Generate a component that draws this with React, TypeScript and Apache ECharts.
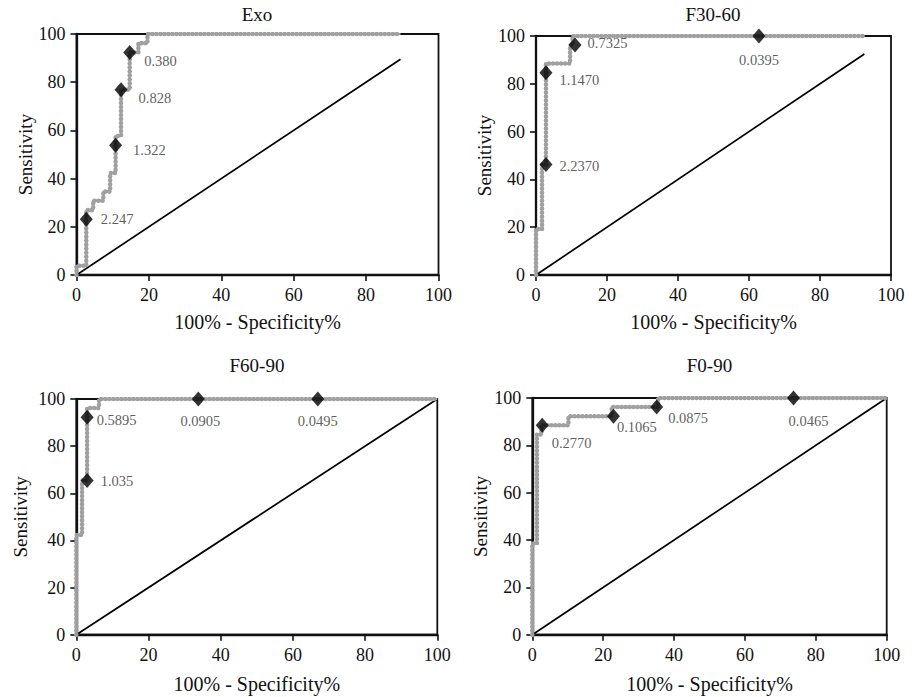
import React, { useEffect, useRef } from "react";
import * as echarts from "echarts";

// ---------- DATA ----------
const PANEL_TITLES = ["Exo", "F30-60", "F60-90", "F0-90"];
const X_AXIS_NAME = "100% - Specificity%";
const Y_AXIS_NAME = "Sensitivity";
const AXIS_MIN = 0;
const AXIS_MAX = 100;
const AXIS_STEP = 20;

// ROC step curves: [100% - specificity, sensitivity]
const EXO_ROC = [
  [0, 0], [0, 3.8], [2.7, 3.8], [2.7, 23.1], [2.7, 26.9], [4.6, 26.9], [4.6, 30.8],
  [7.4, 30.8], [7.4, 34.6], [9.3, 34.6], [9.3, 42.3], [10.8, 42.3], [10.8, 53.8],
  [10.8, 57.7], [12.3, 57.7], [12.3, 76.9], [14.7, 76.9], [14.7, 92.3], [17.1, 92.3],
  [17.1, 96.2], [19.6, 96.2], [19.6, 100], [89.5, 100],
];
const F30_60_ROC = [
  [0, 0], [0, 19.2], [1.7, 19.2], [1.7, 46.2], [2.8, 46.2], [2.8, 84.6], [2.8, 88.5],
  [9.6, 88.5], [9.6, 96.2], [10.3, 96.2], [10.3, 100], [92.5, 100],
];
const F60_90_ROC = [
  [0, 0], [0, 42.3], [1.6, 42.3], [1.6, 65.4], [3.0, 65.4], [3.0, 92.3], [3.0, 96.2],
  [6.3, 96.2], [6.3, 100], [100, 100],
];
const F0_90_ROC = [
  [0, 0], [0, 38.5], [1.3, 38.5], [1.3, 84.6], [2.6, 84.6], [2.6, 88.5], [10.2, 88.5],
  [10.2, 92.3], [22.4, 92.3], [22.4, 96.2], [35.5, 96.2], [35.5, 100], [100, 100],
];

// Reference (chance) lines
const EXO_CHANCE = [[0, 0], [89.5, 89.5]];
const F30_60_CHANCE = [[0, 0], [92.5, 92.5]];
const F60_90_CHANCE = [[0, 0], [100, 100]];
const F0_90_CHANCE = [[0, 0], [100, 100]];

// Cut-off points
const EXO_CUT_X = [2.7, 10.8, 12.3, 14.7];
const EXO_CUT_Y = [23.1, 53.8, 76.9, 92.3];
const EXO_CUT_LABELS = ["2.247", "1.322", "0.828", "0.380"];

const F30_60_CUT_X = [2.8, 2.8, 11.0, 62.8];
const F30_60_CUT_Y = [46.2, 84.6, 96.2, 100];
const F30_60_CUT_LABELS = ["2.2370", "1.1470", "0.7325", "0.0395"];

const F60_90_CUT_X = [3.0, 3.0, 33.8, 66.9];
const F60_90_CUT_Y = [65.4, 92.3, 100, 100];
const F60_90_CUT_LABELS = ["1.035", "0.5895", "0.0905", "0.0495"];

const F0_90_CUT_X = [2.8, 22.9, 35.1, 73.7];
const F0_90_CUT_Y = [88.5, 92.3, 96.2, 100];
const F0_90_CUT_LABELS = ["0.2770", "0.1065", "0.0875", "0.0465"];

// ---------- LAYOUT / STYLE ----------
const FONT = '"Liberation Serif", "Times New Roman", serif';
const GRID_BOXES = [
  { left: 76.5, top: 34, width: 362, height: 241 },
  { left: 536, top: 36, width: 355, height: 239 },
  { left: 76.3, top: 399, width: 361, height: 235.7 },
  { left: 532.3, top: 398, width: 354.4, height: 236.7 },
];
const TITLE_POS = [
  { left: 257, top: 5 },
  { left: 713, top: 5 },
  { left: 257, top: 356 },
  { left: 709.5, top: 356 },
];
const Y_NAME_GAP = [41, 40, 46, 40];
const X_NAME_GAP = [37, 37, 39, 39];
// [position, offsetX, offsetY] per cut-off label
const LABEL_PLACE: [string, number, number][][] = [
  [["right", 3, 0], ["right", 6, 5], ["right", 6, 8], ["right", 3, 8]],
  [["right", 2, 1], ["right", 2, 7], ["right", 1, -2], ["bottom", 0, 4]],
  [["right", 2, 0], ["right", -2, 3], ["bottom", 2, 2], ["bottom", 0, 2]],
  [["right", -2, 18], ["right", -8, 11], ["right", 0, 11], ["bottom", 15, 3]],
];

const ROCS = [EXO_ROC, F30_60_ROC, F60_90_ROC, F0_90_ROC];
const CHANCES = [EXO_CHANCE, F30_60_CHANCE, F60_90_CHANCE, F0_90_CHANCE];
const CUTS_X = [EXO_CUT_X, F30_60_CUT_X, F60_90_CUT_X, F0_90_CUT_X];
const CUTS_Y = [EXO_CUT_Y, F30_60_CUT_Y, F60_90_CUT_Y, F0_90_CUT_Y];
const CUTS_L = [EXO_CUT_LABELS, F30_60_CUT_LABELS, F60_90_CUT_LABELS, F0_90_CUT_LABELS];

const CURVE_GRAY = "#a0a0a0";

function buildOption() {
  const grid: any[] = [];
  const xAxis: any[] = [];
  const yAxis: any[] = [];
  const title: any[] = [];
  const series: any[] = [];

  PANEL_TITLES.forEach((t, i) => {
    grid.push({
      ...GRID_BOXES[i],
      show: true,
      borderColor: "#111",
      borderWidth: 1.8,
      backgroundColor: "transparent",
    });
    title.push({
      text: t,
      left: TITLE_POS[i].left,
      top: TITLE_POS[i].top,
      textAlign: "center",
      padding: 0,
      textStyle: { fontFamily: FONT, fontSize: 19, fontWeight: "normal", color: "#111" },
    });
    const axisCommon = {
      type: "value",
      gridIndex: i,
      min: AXIS_MIN,
      max: AXIS_MAX,
      interval: AXIS_STEP,
      splitLine: { show: false },
      axisLine: { show: true, lineStyle: { color: "#111", width: 2.3 } },
      axisTick: { show: true, inside: false, length: 6, lineStyle: { color: "#111", width: 1.6 } },
      nameTextStyle: { fontFamily: FONT, color: "#111" },
    };
    xAxis.push({
      ...axisCommon,
      name: X_AXIS_NAME,
      nameLocation: "middle",
      nameGap: X_NAME_GAP[i],
      nameTextStyle: { fontFamily: FONT, fontSize: 20, color: "#111" },
      axisLabel: { fontFamily: FONT, fontSize: 18, color: "#111", margin: 11, showMinLabel: true, showMaxLabel: true },
    });
    yAxis.push({
      ...axisCommon,
      name: Y_AXIS_NAME,
      nameLocation: "middle",
      nameGap: Y_NAME_GAP[i],
      nameTextStyle: { fontFamily: FONT, fontSize: 19, color: "#111" },
      axisLabel: { fontFamily: FONT, fontSize: 18, color: "#111", margin: 11, showMinLabel: true, showMaxLabel: true },
    });

    series.push({
      type: "line",
      xAxisIndex: i,
      yAxisIndex: i,
      data: CHANCES[i],
      showSymbol: false,
      lineStyle: { color: "#000", width: 1.7 },
      z: 2,
      silent: true,
    });
    series.push({
      type: "line",
      xAxisIndex: i,
      yAxisIndex: i,
      data: ROCS[i],
      showSymbol: false,
      lineStyle: { color: CURVE_GRAY, width: 2 },
      z: 3,
      silent: true,
    });
    series.push({
      type: "line",
      xAxisIndex: i,
      yAxisIndex: i,
      data: ROCS[i],
      showSymbol: false,
      lineStyle: { color: CURVE_GRAY, width: 4.6, type: [0.01, 4], cap: "round" },
      z: 4,
      silent: true,
    });
    series.push({
      type: "scatter",
      xAxisIndex: i,
      yAxisIndex: i,
      symbol: "diamond",
      symbolSize: [13, 15],
      itemStyle: { color: "#000" },
      z: 5,
      silent: true,
      data: CUTS_X[i].map((x, k) => {
        const [pos, ox, oy] = LABEL_PLACE[i][k];
        return {
          value: [x, CUTS_Y[i][k]],
          name: CUTS_L[i][k],
          label: {
            show: true,
            position: pos,
            offset: [ox, oy],
            formatter: CUTS_L[i][k],
            fontFamily: FONT,
            fontSize: 14.5,
            color: "#333",
          },
        };
      }),
    });
  });

  return {
    animation: false,
    backgroundColor: "#fff",
    title,
    grid,
    xAxis,
    yAxis,
    series,
  };
}

export default function App() {
  const ref = useRef<HTMLDivElement>(null);
  useEffect(() => {
    if (!ref.current) return;
    const chart = echarts.init(ref.current, null, { renderer: "svg" });
    chart.setOption(buildOption() as any);
    return () => chart.dispose();
  }, []);
  return (
    <div
      ref={ref}
      style={{ position: "fixed", left: 0, top: 0, width: 914, height: 697, background: "#fff" }}
    />
  );
}
